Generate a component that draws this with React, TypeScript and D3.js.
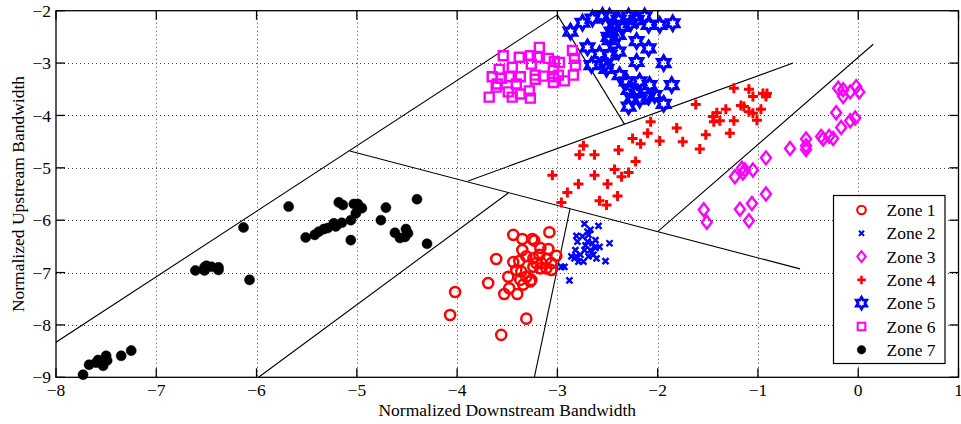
import React, { useEffect, useRef } from 'react';
import * as d3 from 'd3';

type Pt = [number, number];

const zone1: Pt[] = [
  [-4.07, -7.81], [-4.02, -7.37], [-3.56, -8.19], [-3.31, -7.88], [-3.69, -7.2], [-3.61, -6.74],
  [-3.53, -7.41], [-3.48, -7.3], [-3.4, -7.41], [-3.49, -7.08], [-3.44, -6.28], [-3.35, -6.36],
  [-3.25, -6.36], [-3.23, -6.39], [-3.08, -6.23], [-3.44, -6.8], [-3.38, -6.78], [-3.35, -6.57],
  [-3.31, -6.69], [-3.41, -6.95], [-3.36, -6.98], [-3.31, -7.08], [-3.34, -7.23], [-3.26, -7.14],
  [-3.24, -6.73], [-3.18, -6.66], [-3.16, -6.82], [-3.17, -6.53], [-3.09, -6.55], [-3.11, -6.74],
  [-3.11, -6.92], [-3.06, -6.82], [-3.01, -6.68], [-3.06, -6.95], [-3.17, -6.92], [-3.24, -6.89],
  [-3.37, -7.14], [-3.27, -7.17], [-3.21, -6.82],
];

const zone2: Pt[] = [
  [-2.88, -7.15], [-2.96, -6.89], [-2.93, -6.89], [-2.83, -6.73], [-2.81, -6.3], [-2.8, -6.41],
  [-2.73, -6.07], [-2.67, -6.18], [-2.59, -6.11], [-2.48, -6.44], [-2.52, -6.78], [-2.75, -6.31],
  [-2.7, -6.41], [-2.65, -6.44], [-2.62, -6.53], [-2.73, -6.57], [-2.77, -6.66], [-2.81, -6.69],
  [-2.74, -6.79], [-2.69, -6.69], [-2.64, -6.66], [-2.86, -6.69], [-2.67, -6.57], [-2.72, -6.48],
  [-2.58, -6.51], [-2.62, -6.38], [-2.69, -6.28], [-2.79, -6.79], [-2.82, -6.57], [-2.61, -6.73],
  [-2.7, -6.22],
];

const zone3: Pt[] = [
  [-1.54, -5.8], [-1.51, -6.04], [-1.23, -5.17], [-1.16, -5.01], [-1.15, -5.1], [-1.13, -5.04],
  [-1.05, -5.04], [-1.18, -5.79], [-1.06, -5.68], [-1.09, -6.01], [-0.92, -4.81], [-0.92, -5.5],
  [-0.68, -4.63], [-0.52, -4.45], [-0.52, -4.58], [-0.52, -4.65], [-0.37, -4.4], [-0.35, -4.45],
  [-0.29, -4.4], [-0.25, -4.44], [-0.22, -3.95], [-0.17, -4.23], [-0.08, -4.1], [-0.03, -4.05],
  [-0.2, -3.48], [-0.15, -3.64], [-0.08, -3.55], [-0.02, -3.45], [0.01, -3.55], [-0.15, -3.51],
];

const zone4: Pt[] = [
  [-3.05, -5.14], [-2.96, -5.66], [-2.9, -5.47], [-2.79, -5.31], [-2.78, -4.75], [-2.74, -4.58],
  [-2.63, -4.75], [-2.63, -5.14], [-2.58, -5.63], [-2.51, -5.71], [-2.5, -5.31], [-2.43, -5.03],
  [-2.4, -5.54], [-2.39, -4.66], [-2.36, -5.17], [-2.29, -5.09], [-2.25, -4.44], [-2.22, -4.88],
  [-2.17, -4.54], [-2.1, -4.34], [-2.07, -4.12], [-1.98, -4.49], [-1.81, -4.24], [-1.75, -4.5],
  [-1.62, -3.79], [-1.58, -4.64], [-1.52, -4.37], [-1.45, -4.02], [-1.44, -4.12], [-1.41, -3.95],
  [-1.38, -4.1], [-1.32, -3.88], [-1.28, -4.34], [-1.24, -4.1], [-1.24, -3.48], [-1.17, -3.81],
  [-1.14, -3.83], [-1.09, -3.93], [-1.09, -3.5], [-1.05, -3.64], [-1.05, -3.96], [-1.01, -4.09],
  [-0.97, -3.88], [-0.95, -3.58], [-0.92, -3.64], [-0.91, -3.58],
];

const zone5: Pt[] = [
  [-2.87, -2.4], [-2.75, -2.23], [-2.65, -2.15], [-2.55, -2.1], [-2.48, -2.11], [-2.39, -2.18],
  [-2.29, -2.11], [-2.21, -2.18], [-2.13, -2.11], [-2.09, -2.27], [-1.98, -2.27], [-1.85, -2.24],
  [-2.44, -2.27], [-2.36, -2.31], [-2.27, -2.24], [-2.46, -2.4], [-2.49, -2.5], [-2.39, -2.46],
  [-2.48, -2.56], [-2.21, -2.58], [-2.09, -2.72], [-2.7, -2.7], [-2.58, -2.83], [-2.48, -2.85],
  [-2.39, -2.78], [-2.66, -3.04], [-2.52, -3.02], [-2.51, -3.11], [-2.21, -2.98], [-1.94, -3.0],
  [-2.38, -3.23], [-2.31, -3.35], [-2.18, -3.35], [-2.08, -3.42], [-1.86, -3.42], [-2.29, -3.51],
  [-2.22, -3.58], [-2.26, -3.67], [-2.18, -3.7], [-2.09, -3.64], [-2.03, -3.61], [-2.29, -3.83],
  [-1.94, -3.78],
];

const zone6: Pt[] = [
  [-3.18, -2.7], [-3.54, -2.86], [-3.38, -2.89], [-3.27, -2.86], [-3.2, -2.89], [-3.26, -3.02],
  [-3.09, -2.91], [-3.03, -2.97], [-2.98, -2.99], [-2.85, -2.76], [-2.83, -2.91], [-2.82, -3.04],
  [-2.84, -3.23], [-3.58, -3.12], [-3.45, -3.08], [-3.65, -3.26], [-3.56, -3.29], [-3.48, -3.26],
  [-3.37, -3.26], [-3.6, -3.4], [-3.61, -3.46], [-3.41, -3.4], [-3.22, -3.23], [-3.22, -3.31],
  [-3.14, -3.25], [-3.04, -3.13], [-3.04, -3.26], [-2.99, -3.23], [-3.04, -3.37], [-2.93, -3.34],
  [-3.49, -3.55], [-3.37, -3.59], [-3.45, -3.65], [-3.28, -3.53], [-3.27, -3.67], [-3.68, -3.65],
];

const zone7: Pt[] = [
  [-7.73, -8.95], [-7.67, -8.76], [-7.58, -8.67], [-7.53, -8.78], [-7.5, -8.59], [-7.49, -8.68],
  [-7.6, -8.72], [-7.35, -8.59], [-7.25, -8.49], [-6.61, -6.96], [-6.52, -6.9], [-6.5, -6.87],
  [-6.45, -6.89], [-6.38, -6.9], [-6.38, -6.95], [-6.52, -6.96], [-6.13, -6.14], [-6.07, -7.14],
  [-5.68, -5.74], [-5.51, -6.33], [-5.42, -6.28], [-5.38, -6.22], [-5.33, -6.17], [-5.29, -6.15],
  [-5.23, -6.06], [-5.21, -6.12], [-5.15, -6.05], [-5.18, -5.66], [-5.14, -5.71], [-5.06, -6.0],
  [-5.06, -6.38], [-5.03, -5.69], [-4.99, -5.69], [-5.01, -5.87], [-4.95, -5.77], [-4.76, -6.0],
  [-4.71, -5.76], [-4.4, -5.6], [-4.62, -6.24], [-4.57, -6.34], [-4.51, -6.17], [-4.49, -6.25],
  [-4.52, -6.32], [-4.3, -6.45],
];

// zone boundaries, [x1, y1, x2, y2]
const boundaries: [number, number, number, number][] = [
  [-8, -8.33, -3.0, -2.08],
  [-3.0, -2.08, -2.33, -4.17],
  [-3.89, -5.25, -0.65, -3.0],
  [-5.07, -4.68, -0.58, -6.93],
  [-2.0, -6.22, 0.15, -2.64],
  [-3.49, -5.48, -5.98, -9],
  [-2.875, -5.79, -3.23, -9],
];

const zoneNames = ['Zone 1', 'Zone 2', 'Zone 3', 'Zone 4', 'Zone 5', 'Zone 6', 'Zone 7'];
const xTicks = [-8, -7, -6, -5, -4, -3, -2, -1, 0, 1];
const yTicks = [-9, -8, -7, -6, -5, -4, -3, -2];

const FONT = '"Liberation Serif", "Times New Roman", serif';

function starPath(r: number) {
  const ri = r / Math.sqrt(3);
  const pts: string[] = [];
  for (let i = 0; i < 12; i++) {
    const a = (Math.PI / 6) * i - Math.PI / 2;
    const rr = i % 2 === 0 ? r : ri;
    pts.push(`${(rr * Math.cos(a)).toFixed(2)},${(rr * Math.sin(a)).toFixed(2)}`);
  }
  return 'M' + pts.join('L') + 'Z';
}

const markers = [
  { data: zone1, d: d3.symbol(d3.symbolCircle, 80)() as string, fill: 'none', stroke: '#ff0000', sw: 2.5 },
  { data: zone2, d: 'M-3,-3L3,3M-3,3L3,-3', fill: 'none', stroke: '#0000ff', sw: 2.4 },
  { data: zone3, d: 'M0,-6.5L5,0L0,6.5L-5,0Z', fill: 'none', stroke: '#ff00ff', sw: 2.4 },
  { data: zone4, d: 'M-5,0L5,0M0,-5L0,5', fill: 'none', stroke: '#ff0000', sw: 3 },
  { data: zone5, d: starPath(7), fill: 'none', stroke: '#0000ff', sw: 3.2 },
  { data: zone6, d: 'M-4.5,-4.5L4.5,-4.5L4.5,4.5L-4.5,4.5Z', fill: 'none', stroke: '#ff00ff', sw: 2.4 },
  { data: zone7, d: d3.symbol(d3.symbolCircle, 80)() as string, fill: '#000000', stroke: '#000000', sw: 0.5 },
];

export default function App() {
  const svgRef = useRef<SVGSVGElement>(null);

  useEffect(() => {
    if (!svgRef.current) return;
    const svg = d3.select(svgRef.current);
    svg.selectAll('*').remove();

    const x = d3.scaleLinear().domain([-8, 1]).range([56, 958.5]);
    const y = d3.scaleLinear().domain([-9, -2]).range([377.3, 10.7]);
    const [x0, x1] = x.range();
    const [y0, y1] = y.range();

    svg.append('rect').attr('width', 961).attr('height', 424).attr('fill', '#fff');

    // dotted grid
    const grid = svg.append('g').attr('stroke', '#444').attr('stroke-width', 1).attr('stroke-dasharray', '1,3');
    grid.selectAll('.gx').data(xTicks.slice(1, -1)).enter().append('line')
      .attr('x1', d => Math.round(x(d)) + 0.5).attr('x2', d => Math.round(x(d)) + 0.5)
      .attr('y1', y1).attr('y2', y0);
    grid.selectAll('.gy').data(yTicks.slice(1, -1)).enter().append('line')
      .attr('y1', d => Math.round(y(d)) + 0.5).attr('y2', d => Math.round(y(d)) + 0.5)
      .attr('x1', x0).attr('x2', x1);

    const clip = svg.append('defs').append('clipPath').attr('id', 'plot-clip');
    clip.append('rect').attr('x', x0).attr('y', y1).attr('width', x1 - x0).attr('height', y0 - y1);

    // boundaries
    svg.append('g').attr('clip-path', 'url(#plot-clip)')
      .selectAll('line').data(boundaries).enter().append('line')
      .attr('x1', d => x(d[0])).attr('y1', d => y(d[1]))
      .attr('x2', d => x(d[2])).attr('y2', d => y(d[3]))
      .attr('stroke', '#000').attr('stroke-width', 1.1);

    // markers
    markers.forEach(m => {
      svg.append('g').selectAll('path').data(m.data).enter().append('path')
        .attr('d', m.d)
        .attr('transform', d => `translate(${x(d[0])},${y(d[1])})`)
        .attr('fill', m.fill).attr('stroke', m.stroke).attr('stroke-width', m.sw);
    });

    // frame + ticks
    const tl = 9;
    const axes = svg.append('g').attr('stroke', '#000').attr('stroke-width', 1.3);
    axes.append('rect').attr('x', x0).attr('y', y1).attr('width', x1 - x0).attr('height', y0 - y1).attr('fill', 'none');
    xTicks.forEach(t => {
      axes.append('line').attr('x1', x(t)).attr('x2', x(t)).attr('y1', y0).attr('y2', y0 - tl);
      axes.append('line').attr('x1', x(t)).attr('x2', x(t)).attr('y1', y1).attr('y2', y1 + tl);
    });
    yTicks.forEach(t => {
      axes.append('line').attr('y1', y(t)).attr('y2', y(t)).attr('x1', x0).attr('x2', x0 + tl);
      axes.append('line').attr('y1', y(t)).attr('y2', y(t)).attr('x1', x1).attr('x2', x1 - tl);
    });

    const fmt = d3.format('d');
    svg.append('g').selectAll('text').data(xTicks).enter().append('text')
      .attr('x', d => x(d)).attr('y', 396)
      .attr('text-anchor', 'middle')
      .attr('font-family', FONT).attr('font-size', 17.5)
      .text(d => fmt(d));
    svg.append('g').selectAll('text').data(yTicks).enter().append('text')
      .attr('x', 51).attr('y', d => y(d)).attr('dy', '0.35em')
      .attr('text-anchor', 'end')
      .attr('font-family', FONT).attr('font-size', 17.5)
      .text(d => fmt(d));

    svg.append('text')
      .attr('x', (x0 + x1) / 2).attr('y', 416)
      .attr('text-anchor', 'middle')
      .attr('font-family', FONT).attr('font-size', 17.5)
      .text('Normalized Downstream Bandwidth');
    svg.append('text')
      .attr('transform', `translate(24,${(y0 + y1) / 2}) rotate(-90)`)
      .attr('text-anchor', 'middle')
      .attr('font-family', FONT).attr('font-size', 17.5)
      .text('Normalized Upstream Bandwidth');

    // legend
    const lg = svg.append('g').attr('transform', 'translate(833.5,195.5)');
    lg.append('rect').attr('width', 111.5).attr('height', 168).attr('fill', '#fff').attr('stroke', '#000').attr('stroke-width', 1.2);
    markers.forEach((m, i) => {
      const row = lg.append('g').attr('transform', `translate(0,${14.5 + i * 23.3})`);
      row.append('path').attr('d', m.d).attr('transform', 'translate(28,0) scale(0.85)')
        .attr('fill', m.fill).attr('stroke', m.stroke).attr('stroke-width', m.sw);
      row.append('text').attr('x', 53).attr('dy', '0.35em')
        .attr('font-family', FONT).attr('font-size', 17.5)
        .text(zoneNames[i]);
    });
  }, []);

  return (
    <div style={{ position: 'absolute', left: 0, top: 0 }}>
      <svg ref={svgRef} width={961} height={424} style={{ display: 'block' }}></svg>
    </div>
  );
}
